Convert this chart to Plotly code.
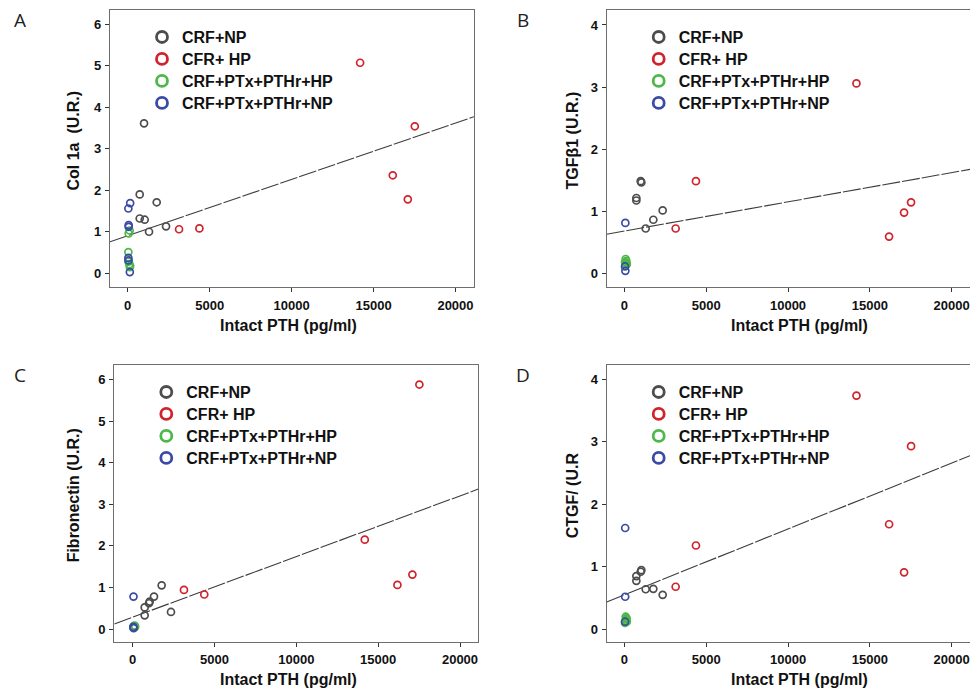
import plotly.graph_objects as go

W, H = 970, 688

groups = ["CRF+NP", "CFR+ HP", "CRF+PTx+PTHr+HP", "CRF+PTx+PTHr+NP"]
colors = ["#4d4d4d", "#d0232a", "#4cb848", "#3a4aa6"]

# Intact PTH (pg/ml) for the CRF groups
pth_np = [732, 732, 997, 1038, 1302, 1770, 2340]
pth_hp = [3133, 4374, 14181, 16175, 17091, 17518]

# Panel A: Col 1a
a_np = [1.90, 1.32, 3.61, 1.29, 1.00, 1.71, 1.13]
a_hp = [1.06, 1.08, 5.07, 2.36, 1.78, 3.54]
a_ptx_hp_x = [120, 60, 40, 50, 150, 100, 130]
a_ptx_hp = [1.03, 0.96, 0.51, 0.28, 0.18, 0.22, 0.15]
a_ptx_np_x = [150, 40, 60, 60, 40, 50, 130]
a_ptx_np = [1.69, 1.56, 1.16, 1.12, 0.37, 0.31, 0.03]
a_fit = (0.906, 1.355e-4)

# Panel B: TGFb1
b_np = [1.22, 1.18, 1.49, 1.47, 0.73, 0.87, 1.02]
b_hp = [0.73, 1.49, 3.06, 0.60, 0.985, 1.15]
b_ptx_hp_x = [80, 120, 60, 150, 100, 40, 130]
b_ptx_hp = [0.24, 0.21, 0.18, 0.16, 0.14, 0.19, 0.17]
b_ptx_np_x = [60, 40, 60]
b_ptx_np = [0.82, 0.12, 0.05]
b_fit = (0.689, 4.69e-5)

# Panel C: Fibronectin
c_np = [0.52, 0.33, 0.62, 0.66, 0.78, 1.05, 0.41]
c_hp = [0.94, 0.83, 2.15, 1.06, 1.31, 5.88]
c_ptx_hp_x = [120, 150, 80, 100, 60, 40, 130]
c_ptx_hp = [0.08, 0.06, 0.05, 0.04, 0.07, 0.03, 0.05]
c_ptx_np_x = [50, 40, 60]
c_ptx_np = [0.78, 0.05, 0.02]
c_fit = (0.284, 1.459e-4)

# Panel D: CTGF
d_np = [0.85, 0.775, 0.92, 0.945, 0.64, 0.646, 0.55]
d_hp = [0.68, 1.34, 3.74, 1.68, 0.91, 2.93]
d_ptx_hp_x = [80, 120, 100, 60, 40, 150, 130]
d_ptx_hp = [0.20, 0.17, 0.155, 0.13, 0.10, 0.12, 0.18]
d_ptx_np_x = [50, 50, 40]
d_ptx_np = [1.62, 0.52, 0.12]
d_fit = (0.551, 1.054e-4)

y_ticks_6 = [0, 1, 2, 3, 4, 5, 6]
y_ticks_4 = [0, 1, 2, 3, 4]
x_ticks = [0, 5000, 10000, 15000, 20000]
x_ticktext = ["0", "5000", "10000", "15000", "20000"]

panels = [
    dict(letter="A", ytitle="Col 1a\u00a0 (U.R.)", np_=a_np, hp=a_hp,
         gx=a_ptx_hp_x, gy=a_ptx_hp, bx=a_ptx_np_x, by=a_ptx_np, fit=a_fit,
         xr=[-1080, 21130], yr=[-0.33, 6.34], yt=y_ticks_6,
         dx=[110, 474], dy=[10, 287]),
    dict(letter="B", ytitle="TGF\u03b21 (U.R.)", np_=b_np, hp=b_hp,
         gx=b_ptx_hp_x, gy=b_ptx_hp, bx=b_ptx_np_x, by=b_ptx_np, fit=b_fit,
         xr=[-1080, 21120], yr=[-0.21, 4.24], yt=y_ticks_4,
         dx=[606.7, 970], dy=[10, 287]),
    dict(letter="C", ytitle="Fibronectin (U.R.)", np_=c_np, hp=c_hp,
         gx=c_ptx_hp_x, gy=c_ptx_hp, bx=c_ptx_np_x, by=c_ptx_np, fit=c_fit,
         xr=[-1124, 21118], yr=[-0.305, 6.35], yt=y_ticks_6,
         dx=[114.3, 478.3], dy=[365, 641.7]),
    dict(letter="D", ytitle="CTGF/ (U.R", np_=d_np, hp=d_hp,
         gx=d_ptx_hp_x, gy=d_ptx_hp, bx=d_ptx_np_x, by=d_ptx_np, fit=d_fit,
         xr=[-1080, 21118], yr=[-0.2, 4.23], yt=y_ticks_4,
         dx=[606.7, 970], dy=[365, 641.7]),
]

fig = go.Figure()
FONT = "Liberation Sans, Arial, sans-serif"
annotations = []
layout_extra = {}

for i, p in enumerate(panels):
    n = i + 1
    xa = "x" if n == 1 else f"x{n}"
    ya = "y" if n == 1 else f"y{n}"
    lg = "legend" if n == 1 else f"legend{n}"
    x0, x1 = p["xr"]
    b0, b1 = p["fit"]
    fig.add_trace(go.Scatter(x=[x0, x1], y=[b0 + b1 * x0, b0 + b1 * x1],
                             mode="lines", xaxis=xa, yaxis=ya, showlegend=False,
                             line=dict(color="#3c3c3c", width=1.1, dash="18px,2px"),
                             hoverinfo="skip"))
    series = [(pth_np, p["np_"]), (pth_hp, p["hp"]), (p["gx"], p["gy"]), (p["bx"], p["by"])]
    for g, (xs, ys) in enumerate(series):
        fig.add_trace(go.Scatter(x=xs, y=ys, mode="markers", xaxis=xa, yaxis=ya,
                                 name=groups[g], showlegend=False,
                                 marker=dict(symbol="circle-open", size=7, color=colors[g],
                                             line=dict(width=1.7, color=colors[g]))))
    for g in range(4):
        fig.add_trace(go.Scatter(x=[None], y=[None], mode="markers", xaxis=xa, yaxis=ya,
                                 name=f"<span style='font-size:16px'>{groups[g]}</span>",
                                 legend=lg, showlegend=True,
                                 marker=dict(symbol="circle-open", size=11, color=colors[g],
                                             line=dict(width=2.8, color=colors[g]))))
    dx, dy = p["dx"], p["dy"]
    axcommon = dict(showgrid=False, zeroline=False, showline=True, mirror=True,
                    linecolor="#6e6e6e", linewidth=1.3, ticks="outside", ticklen=4,
                    tickcolor="#333", tickwidth=1.2,
                    tickfont=dict(family=FONT, size=13, color="#111", weight="bold"))
    layout_extra[f"xaxis{'' if n == 1 else n}"] = dict(
        axcommon, domain=[dx[0] / W, dx[1] / W], range=p["xr"], tickvals=x_ticks,
        ticktext=x_ticktext, anchor=ya, ticklabelstandoff=2)
    layout_extra[f"yaxis{'' if n == 1 else n}"] = dict(
        axcommon, domain=[1 - dy[1] / H, 1 - dy[0] / H], range=p["yr"], tickvals=p["yt"],
        anchor=xa, ticklabelstandoff=1)
    # legend position
    lx = (dx[0] + 32) / W
    ly = 1 - (dy[0] + 11) / H
    layout_extra[lg] = dict(x=lx, y=ly, xanchor="left", yanchor="top",
                            bgcolor="rgba(0,0,0,0)", borderwidth=0,
                            font=dict(family=FONT, size=14.6, color="#111", weight="bold"),
                            tracegroupgap=0, itemclick=False, itemdoubleclick=False)
    # panel letter
    lx_letter = 20 if n in (1, 3) else 523
    ly_letter = 20 if n in (1, 2) else 375
    annotations.append(dict(text=p["letter"], x=lx_letter / W, y=1 - ly_letter / H,
                            xref="paper", yref="paper", showarrow=False,
                            xanchor="center", yanchor="middle",
                            font=dict(family="Open Sans, Liberation Sans", size=19, color="#222")))
    # y title
    ytx = 73 if n in (1, 3) else 572
    yty = (dy[0] + dy[1]) / 2 - 8
    annotations.append(dict(text=p["ytitle"], x=ytx / W, y=1 - yty / H, textangle=-90,
                            xref="paper", yref="paper", showarrow=False,
                            xanchor="center", yanchor="middle",
                            font=dict(family=FONT, size=16, color="#111", weight="bold")))
    # x title
    xtx = 288 if n in (1, 3) else 799
    xty = dy[1] + 38
    annotations.append(dict(text="Intact PTH (pg/ml)", x=xtx / W, y=1 - xty / H,
                            xref="paper", yref="paper", showarrow=False,
                            xanchor="center", yanchor="middle",
                            font=dict(family=FONT, size=16, color="#111", weight="bold")))

fig.update_layout(width=W, height=H, margin=dict(l=0, r=0, t=0, b=0),
                  paper_bgcolor="white", plot_bgcolor="white",
                  annotations=annotations, **layout_extra)

fig.write_html("out.html", config={"displayModeBar": False},
               post_script="document.body.style.margin='0';document.body.style.overflow='hidden';")
